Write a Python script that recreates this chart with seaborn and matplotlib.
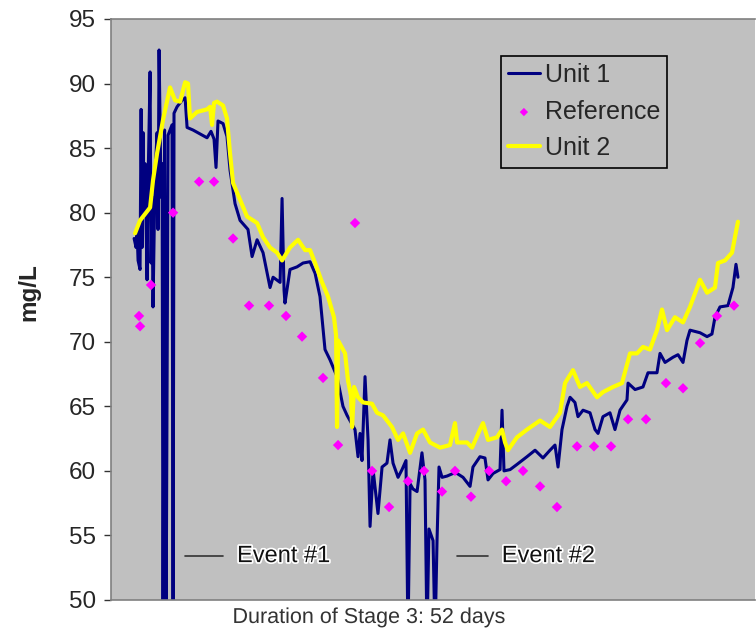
import matplotlib
matplotlib.use("Agg")
import matplotlib.pyplot as plt
import matplotlib.patheffects as pe
import seaborn as sns
import pandas as pd

# Unit 1 (Messwerte, Tage / mg/L)
unit1_day = [0.09, 0.26, 0.34, 0.43, 0.60, 0.69, 0.77, 0.86, 0.94, 1.03,
             1.20, 1.29, 1.46, 1.54, 1.63, 1.71, 1.89, 2.06, 2.14, 2.23,
             2.40, 2.49, 2.57, 2.70, 2.83, 3.00, 3.34, 3.43, 3.51, 3.77,
             4.20, 4.46, 4.63, 5.14, 5.74, 6.34, 6.68, 6.94, 7.11, 7.28,
             7.71, 8.05, 8.31, 8.74, 9.17, 9.85, 10.20, 10.63, 11.14, 11.74,
             12.00, 12.60, 12.77, 12.94, 13.02, 13.45, 14.05, 14.57, 15.17, 15.60,
             16.02, 16.45, 16.88, 17.48, 17.99, 18.34, 18.59, 19.02, 19.28, 19.45,
             19.62, 19.88, 20.14, 20.31, 20.57, 20.99, 21.34, 21.76, 22.02, 22.28,
             22.71, 23.05, 23.39, 23.56, 23.74, 23.99, 24.34, 24.76, 25.02, 25.19,
             25.36, 25.71, 25.88, 26.05, 26.22, 26.48, 26.91, 27.42, 27.77, 28.28,
             28.88, 29.13, 29.73, 30.16, 30.42, 30.85, 31.45, 31.62, 31.79, 32.31,
             32.90, 33.76, 34.45, 35.13, 35.73, 36.16, 36.42, 36.76, 37.19, 37.45,
             37.87, 38.13, 38.56, 39.16, 39.59, 39.85, 40.27, 40.87, 41.30, 41.73,
             42.33, 42.42, 43.02, 43.70, 44.13, 44.90, 45.16, 45.59, 46.27, 46.70,
             47.13, 47.47, 47.73, 48.59, 49.19, 49.61, 49.87, 50.30, 50.98, 51.41,
             51.67, 51.84]
unit1_val = [78.0, 77.3, 78.7, 76.3, 75.6, 88.0, 77.3, 86.2, 79.7, 83.8,
             74.8, 82.5, 90.9, 76.1, 81.2, 72.7, 83.1, 86.2, 78.7, 92.6,
             81.2, 83.8, 47.0, 86.4, 47.0, 86.0, 86.8, 47.0, 87.7, 88.2,
             88.7, 88.9, 86.6, 86.4, 86.1, 85.8, 86.3, 85.7, 83.5, 87.1,
             86.9, 85.9, 83.3, 80.7, 79.4, 78.7, 76.6, 77.9, 76.9, 74.2,
             75.0, 74.6, 81.1, 74.0, 73.0, 75.6, 75.8, 76.1, 76.2, 75.3,
             73.5, 69.4, 68.6, 67.3, 65.0, 64.3, 63.9, 63.2, 61.1, 62.9,
             60.8, 67.3, 62.4, 55.7, 60.1, 56.7, 60.3, 60.6, 62.4, 60.6,
             59.5, 60.1, 60.8, 47.0, 59.0, 58.6, 58.4, 61.4, 59.3, 47.0,
             55.5, 54.6, 47.0, 54.6, 60.3, 59.5, 59.6, 59.8, 59.8, 59.5,
             58.8, 60.3, 61.1, 61.0, 59.3, 59.8, 60.1, 64.7, 60.0, 60.1,
             60.5, 61.1, 61.6, 61.0, 61.6, 62.0, 60.3, 63.2, 65.0, 65.7,
             65.3, 64.2, 64.7, 64.5, 63.2, 62.9, 64.2, 64.5, 63.2, 64.7,
             65.5, 66.8, 66.3, 66.5, 67.6, 67.6, 69.1, 68.4, 68.8, 69.0,
             68.4, 70.1, 70.9, 70.7, 70.4, 70.6, 71.9, 72.7, 72.8, 74.2,
             76.0, 75.0]

# Unit 2
unit2_day = [0.17, 0.60, 1.46, 1.71, 2.06, 2.57, 3.17, 3.60, 4.03, 4.46,
             4.71, 4.88, 5.48, 6.34, 6.60, 6.77, 6.94, 7.20, 7.71, 8.05,
             8.31, 8.57, 9.17, 9.77, 10.63, 11.14, 11.74, 12.34, 12.77, 13.45,
             14.14, 14.74, 15.17, 15.60, 16.20, 16.71, 17.22, 17.40, 17.48, 17.57,
             18.17, 18.42, 18.68, 18.77, 18.94, 19.28, 19.71, 20.48, 20.91, 21.42,
             22.19, 22.71, 23.14, 23.74, 24.34, 24.85, 25.45, 26.31, 27.16, 27.59,
             27.77, 28.62, 29.05, 29.73, 29.99, 30.42, 31.19, 31.62, 31.88, 32.13,
             32.90, 33.76, 34.88, 35.73, 36.59, 37.02, 37.70, 38.30, 38.90, 39.76,
             40.27, 41.13, 41.90, 42.59, 43.19, 43.70, 44.30, 44.90, 45.33, 45.76,
             46.44, 47.13, 47.73, 48.59, 49.19, 49.87, 50.13, 50.73, 51.33, 51.58,
             51.84]
unit2_val = [78.4, 79.4, 80.4, 82.5, 84.6, 87.2, 89.7, 88.7, 88.6, 90.1,
             90.0, 87.3, 87.8, 88.0, 88.2, 86.8, 88.5, 88.6, 88.3, 87.3,
             84.6, 82.3, 81.0, 79.7, 79.2, 78.1, 77.3, 76.9, 76.3, 77.3,
             77.9, 77.1, 77.1, 76.1, 74.6, 73.5, 71.9, 70.5, 63.4, 70.1,
             69.1, 67.0, 65.8, 63.4, 66.5, 65.7, 65.3, 65.2, 64.5, 64.3,
             63.4, 62.4, 62.9, 61.4, 62.9, 63.2, 62.2, 61.8, 62.0, 63.7,
             62.2, 62.2, 61.8, 63.2, 63.7, 62.4, 62.6, 63.2, 62.2, 61.6,
             62.6, 63.2, 63.9, 63.4, 64.5, 66.8, 67.8, 66.5, 66.8, 65.7,
             66.1, 66.5, 66.8, 69.1, 69.1, 69.6, 69.4, 70.9, 72.5, 70.9,
             71.9, 71.5, 72.7, 74.8, 73.8, 74.2, 76.1, 76.3, 76.9, 78.1,
             79.3]

# Referenzmessungen
ref_day = [0.51, 0.60, 1.54, 3.43, 5.66, 6.94, 8.57, 9.94, 11.65, 13.11,
           14.48, 16.28, 17.57, 19.02, 20.48, 21.94, 23.56, 24.94, 26.48, 27.59,
           28.96, 30.51, 31.97, 33.42, 34.88, 36.33, 38.05, 39.50, 40.96, 42.42,
           43.96, 45.67, 47.13, 48.59, 50.04, 51.50]
ref_val = [72.0, 71.2, 74.4, 80.0, 82.4, 82.4, 78.0, 72.8, 72.8, 72.0,
           70.4, 67.2, 62.0, 79.2, 60.0, 57.2, 59.2, 60.0, 58.4, 60.0,
           58.0, 60.0, 59.2, 60.0, 58.8, 57.2, 61.9, 61.9, 61.9, 64.0,
           64.0, 66.8, 66.4, 69.9, 72.0, 72.8]

# Ereignisse (Start, Ende, Höhe der Markierung)
event_labels = ["Event #1", "Event #2"]
event_start = [4.46, 27.8]
event_end = [7.71, 30.4]
event_level = [53.4, 53.4]

df1 = pd.DataFrame({"tag": unit1_day, "wert": unit1_val})
df2 = pd.DataFrame({"tag": unit2_day, "wert": unit2_val})
dfr = pd.DataFrame({"tag": ref_day, "wert": ref_val})

sns.set_theme(style="white")
plt.rcParams["font.family"] = ["Liberation Sans", "DejaVu Sans"]

fig = plt.figure(figsize=(7.56, 6.37), dpi=100)
ax = fig.add_axes([111 / 756, 37 / 637, 644 / 756, 581 / 637])
ax.set_facecolor("#C0C0C0")

sns.lineplot(data=df1, x="tag", y="wert", color="#000080", linewidth=2.2,
             estimator=None, sort=False, label="Unit 1", ax=ax)
sns.scatterplot(data=dfr, x="tag", y="wert", color="#FF00FF", marker="D",
                s=28, edgecolor="none", label="Reference", ax=ax, zorder=3)
sns.lineplot(data=df2, x="tag", y="wert", color="#FFFF00", linewidth=3.0,
             estimator=None, sort=False, label="Unit 2", ax=ax, zorder=4)

halo = [pe.withStroke(linewidth=2.5, foreground="white")]
for lab, x0, x1, lv in zip(event_labels, event_start, event_end, event_level):
    ax.plot([x0, x1], [lv, lv], color="#333333", linewidth=1.2)
    ax.text(x1 + 1.2, lv, lab, fontsize=17, color="#111111",
            va="center", ha="left", path_effects=halo)

ax.set_xlim(-1.89, 53.3)
ax.set_ylim(50, 95)
ax.set_yticks(range(50, 96, 5))
ax.set_xticks([])
ax.tick_params(axis="y", direction="out", length=5, width=1, color="#333333",
               labelsize=17.5, pad=6, left=True)

for side in ["left", "bottom", "top"]:
    ax.spines[side].set_color("#808080")
    ax.spines[side].set_linewidth(1.2)
ax.spines["right"].set_visible(False)

ax.set_ylabel("mg/L", fontsize=17.5, fontweight="bold")
ax.yaxis.set_label_coords(-0.11, 0.53)
ax.set_xlabel("Duration of Stage 3: 52 days", fontsize=15.5, color="#333333",
              path_effects=halo)
ax.xaxis.set_label_coords(0.40, -0.012)

leg = ax.legend(loc="upper right", bbox_to_anchor=(0.864, 0.937), fontsize=18,
                frameon=True, fancybox=False, facecolor="#C0C0C0",
                edgecolor="black", handlelength=1.25, handletextpad=0.2,
                borderpad=0.3, labelspacing=0.5, borderaxespad=0,
                markerscale=0.8)
leg.get_frame().set_linewidth(1.2)
leg.get_frame().set_alpha(1)

fig.savefig("out.png", dpi=100)
